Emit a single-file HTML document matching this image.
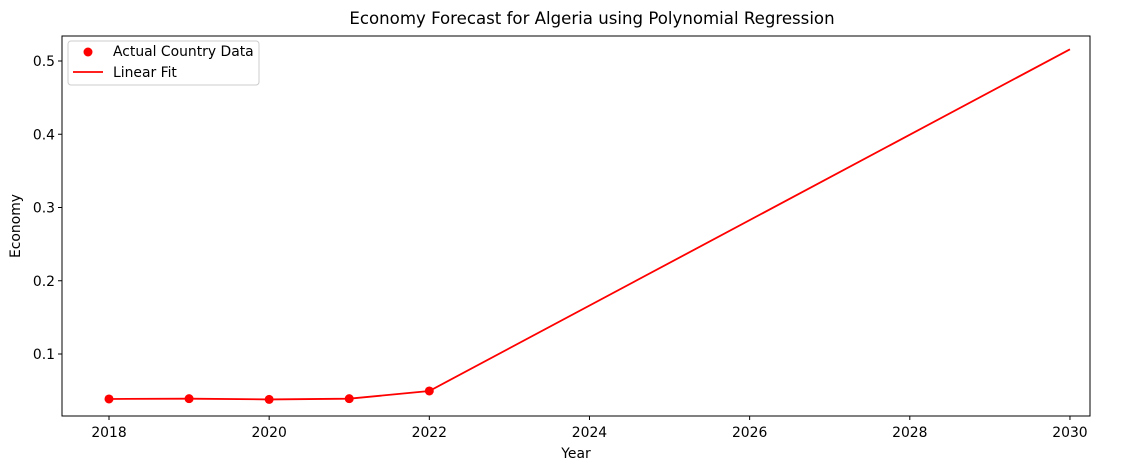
<!DOCTYPE html>
<html><head><meta charset="utf-8"><style>
body{margin:0;background:#fff;}
svg{display:block;font-family:"DejaVu Sans","Liberation Sans",sans-serif;}
</style></head><body>
<svg id="chart" width="1128" height="470">
<text x="592" y="24" font-size="16.6" text-anchor="middle">Economy Forecast for Algeria using Polynomial Regression</text>
<g id="axes"></g>
<g id="marks"></g>
<rect x="62" y="36" width="1028" height="380" fill="none" stroke="#000" stroke-width="1"/>
<text x="576" y="458" font-size="13.9" text-anchor="middle">Year</text>
<text x="20" y="226" font-size="13.9" text-anchor="middle" transform="rotate(-90 20 226)">Economy</text>
<g>
<rect x="68" y="41" width="191" height="44" rx="3" fill="#fff" stroke="#ccc"/>
<circle cx="88" cy="52" r="4.5" fill="red"/>
<text x="113" y="56" font-size="13.9">Actual Country Data</text>
<line x1="73" y1="72" x2="103" y2="72" stroke="red" stroke-width="1.8"/>
<text x="113" y="77" font-size="13.9">Linear Fit</text>
</g>
</svg>
<script>
const actualYears=[2018,2019,2020,2021,2022];
const actualValues=[0.0386,0.039,0.038,0.039,0.0495];
const fitYears=[2018,2019,2020,2021,2022,2030];
const fitValues=[0.0386,0.039,0.038,0.039,0.0495,0.516];
const xTicks=[2018,2020,2022,2024,2026,2028,2030];
const yTicks=[0.1,0.2,0.3,0.4,0.5];
const ns="http://www.w3.org/2000/svg";
const xs=y=>109+(y-2018)*80.08;
const ys=v=>354-(v-0.1)*732.5;
const axes=document.getElementById('axes'),marks=document.getElementById('marks');
function mk(t,a,p){const e=document.createElementNS(ns,t);for(const k in a)e.setAttribute(k,a[k]);p.appendChild(e);return e;}
xTicks.forEach(t=>{
 const l=mk('line',{x1:xs(t),x2:xs(t),y1:416,y2:420,stroke:'#000'},axes);
 
 
 const tx=mk('text',{x:xs(t),y:437,'font-size':13.9,'text-anchor':'middle'},axes);tx.textContent=t;
 
 
});
yTicks.forEach(t=>{
 const l=mk('line',{x1:58,x2:62,y1:ys(t),y2:ys(t),stroke:'#000'},axes);
 
 
 const tx=mk('text',{x:55,y:ys(t)+5,'font-size':13.9,'text-anchor':'end'},axes);tx.textContent=t.toFixed(1);
 
 
});
const pl=mk('polyline',{points:fitYears.map((y,i)=>xs(y)+','+ys(fitValues[i])).join(' '),fill:'none',stroke:'red','stroke-width':1.8},marks);


actualYears.forEach((y,i)=>{
 const c=mk('circle',{cx:xs(y),cy:ys(actualValues[i]),r:4.5,fill:'red'},marks);
 
 
});
</script>
</body></html>
